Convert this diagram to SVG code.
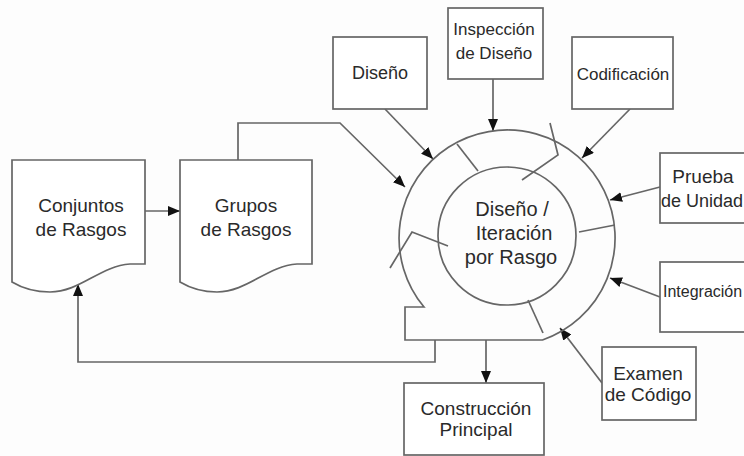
<svg xmlns="http://www.w3.org/2000/svg" width="744" height="456" viewBox="0 0 744 456">
<defs>
<marker id="ah" markerUnits="userSpaceOnUse" markerWidth="12" markerHeight="10" refX="12" refY="5" orient="auto">
<path d="M0,0 L12,5 L0,10 Z" fill="#111"/>
</marker>
<style>
.ln{fill:none;stroke:#666;stroke-width:1.7}
.bx{fill:#fff;stroke:#666;stroke-width:1.7}
.t{font-family:"Liberation Sans",Arial,sans-serif;fill:#2a2a2a;text-anchor:middle}
</style>
</defs>
<rect width="744" height="456" fill="#fdfdfd"/>
<g id="connectors">
<line class="ln" x1="145" y1="211" x2="180" y2="211" marker-end="url(#ah)"/>
<polyline class="ln" points="238,160 238,123 340,123 405,187" marker-end="url(#ah)"/>
<line class="ln" x1="385" y1="109" x2="433" y2="159" marker-end="url(#ah)"/>
<line class="ln" x1="493" y1="79" x2="493" y2="131" marker-end="url(#ah)"/>
<line class="ln" x1="630" y1="109" x2="582" y2="158" marker-end="url(#ah)"/>
<line class="ln" x1="660" y1="187" x2="610" y2="200" marker-end="url(#ah)"/>
<line class="ln" x1="660" y1="297" x2="610" y2="278" marker-end="url(#ah)"/>
<line class="ln" x1="602" y1="383" x2="560" y2="328" marker-end="url(#ah)"/>
<line class="ln" x1="486" y1="340" x2="486" y2="383" marker-end="url(#ah)"/>
<polyline class="ln" points="435,340 435,362 78,362 78,284" marker-end="url(#ah)"/>
</g>
<g id="iteracion">
<path class="ln" d="M424,307 A108,108 0 1 1 542.5,340 H405 V307 Z"/>
<circle class="ln" cx="507" cy="236" r="69"/>
<polyline class="ln" points="457,144 478,171"/>
<polyline class="ln" points="550,123 558,155 522,180"/>
<polyline class="ln" points="579,232 615,225"/>
<polyline class="ln" points="390,268 412,232 448,246"/>
<polyline class="ln" points="528,300 543,333"/>
<text class="t" font-size="20" x="512" y="216">Diseño /</text>
<text class="t" font-size="20" x="514" y="240">Iteración</text>
<text class="t" font-size="20" x="511" y="264">por Rasgo</text>
</g>
<g id="conjuntos">
<path class="bx" d="M12,160 H145 V264 H130 C100,266 80,292 50,292 C35,292 22,288 12,282 Z"/>
<text class="t" font-size="19" x="81" y="212">Conjuntos</text>
<text class="t" font-size="19" x="81" y="236">de Rasgos</text>
</g>
<g id="grupos">
<path class="bx" d="M180,160 H312 V264 H297 C267,266 247,292 217,292 C202,292 190,288 180,282 Z"/>
<text class="t" font-size="19" x="246" y="212">Grupos</text>
<text class="t" font-size="19" x="246" y="236">de Rasgos</text>
</g>
<g id="diseno">
<rect class="bx" x="333" y="37" width="94" height="72"/>
<text class="t" font-size="18" x="380" y="79">Diseño</text>
</g>
<g id="inspeccion">
<rect class="bx" x="448" y="8" width="95" height="71"/>
<text class="t" font-size="17" x="494" y="35">Inspección</text>
<text class="t" font-size="17" x="494" y="59">de Diseño</text>
</g>
<g id="codificacion">
<rect class="bx" x="572" y="37" width="101" height="72"/>
<text class="t" font-size="17" x="623" y="80">Codificación</text>
</g>
<g id="prueba">
<rect class="bx" x="660" y="153" width="100" height="70"/>
<text class="t" font-size="19" x="703" y="183">Prueba</text>
<text class="t" font-size="18" x="702" y="207">de Unidad</text>
</g>
<g id="integracion">
<rect class="bx" x="660" y="262" width="100" height="70"/>
<text class="t" font-size="16" x="663" y="297" style="text-anchor:start">Integración</text>
</g>
<g id="examen">
<rect class="bx" x="602" y="347" width="94" height="73"/>
<text class="t" font-size="19" x="648" y="380">Examen</text>
<text class="t" font-size="19" x="648" y="401">de Código</text>
</g>
<g id="construccion">
<rect class="bx" x="404" y="383" width="140" height="72"/>
<text class="t" font-size="19" x="476" y="415">Construcción</text>
<text class="t" font-size="19" x="476" y="436">Principal</text>
</g>
</svg>
